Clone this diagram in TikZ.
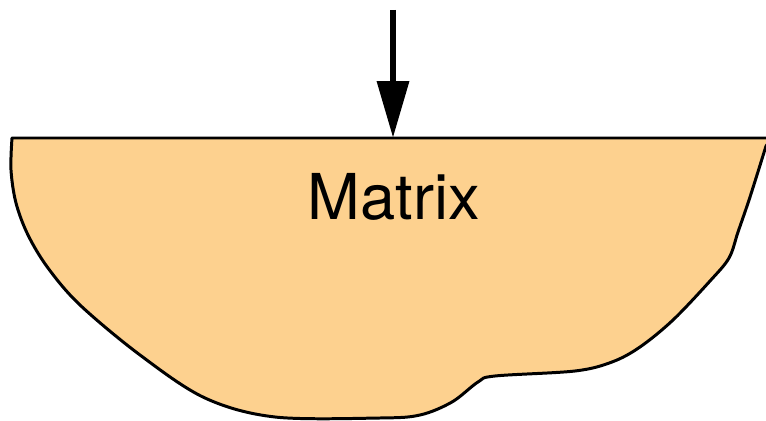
\documentclass[tikz,border=0pt]{standalone}
\usepackage{fontspec}
\setmainfont{TeX Gyre Heros}
\usetikzlibrary{arrows.meta,positioning}
\definecolor{matrixfill}{RGB}{253,209,143}

\begin{document}
\begin{tikzpicture}[
    x=0.02cm, y=-0.02cm,
    outline/.style={draw=black, line width=1.7pt, fill=matrixfill, line join=round},
    feed/.style={line width=3.8pt, -{Triangle[length=1.14cm, width=0.62cm]}},
    label/.style={font=\fontsize{36}{40}\selectfont}
]
    \useasboundingbox (0,0) rectangle (766,421);

    % Matrix body
    \draw[outline] (12,138) -- (775,138) -- (770,141)
        -- plot[smooth, tension=0.55] coordinates {(766,146) (750,197) (738,232) (729,258) (710,281)
            (673,320) (640,347) (612,362) (575,371) (495,376) (478,382) (452,402)
            (420,415) (380,418) (275,417) (205,398) (140,355) (80,305) (48,268)
            (28,235) (16,203) (11,170) (12,138)} -- cycle;
    \node[label] (matrix) at (394,197) {Matrix};

    % Incoming arrow
    \coordinate (source) at (393,10);
    \coordinate (entry) at (393,138);
    \draw[feed] (source) -- (entry);
\end{tikzpicture}
\end{document}
